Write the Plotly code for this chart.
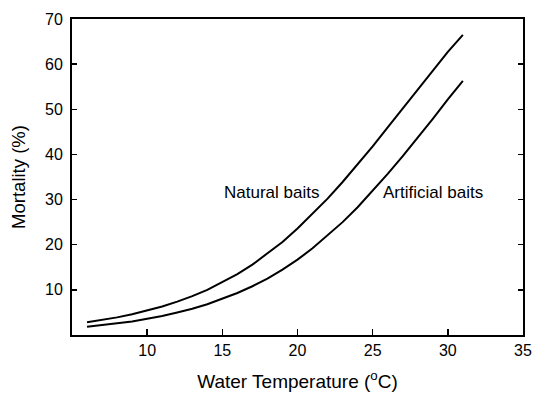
import plotly.graph_objects as go

temps = list(range(6, 32))
natural = [2.8, 3.3, 3.9, 4.6, 5.4, 6.3, 7.4, 8.6, 10.0, 11.7, 13.5, 15.6, 18.0, 20.6,
           23.6, 26.8, 30.2, 33.9, 37.8, 41.8, 46.0, 50.2, 54.5, 58.6, 62.7, 66.5]
artificial = [1.85, 2.2, 2.6, 3.0, 3.6, 4.2, 5.0, 5.8, 6.8, 8.0, 9.3, 10.8, 12.5, 14.5,
              16.7, 19.2, 22.0, 25.0, 28.3, 31.9, 35.7, 39.6, 43.7, 47.9, 52.2, 56.3]

x_ticks = [10, 15, 20, 25, 30, 35]
y_ticks = [10, 20, 30, 40, 50, 60, 70]

FONT = "Liberation Sans, Arial, sans-serif"

fig = go.Figure()
fig.add_trace(go.Scatter(x=temps, y=natural, mode="lines", line=dict(color="black", width=2),
                         name="Natural baits", showlegend=False, hoverinfo="skip"))
fig.add_trace(go.Scatter(x=temps, y=artificial, mode="lines", line=dict(color="black", width=2),
                         name="Artificial baits", showlegend=False, hoverinfo="skip"))

fig.add_annotation(x=18.25, y=31.5, text="Natural baits", showarrow=False,
                   font=dict(family=FONT, size=17, color="black"))
fig.add_annotation(x=29.03, y=31.5, text="Artificial baits", showarrow=False,
                   font=dict(family=FONT, size=17, color="black"))

fig.update_layout(
    width=533, height=393,
    margin=dict(l=72, r=10, t=19, b=58, autoexpand=False),
    paper_bgcolor="white", plot_bgcolor="white",
    font=dict(family=FONT, size=16, color="black"),
    showlegend=False,
)
fig.update_xaxes(
    range=[5, 35], tickvals=x_ticks, ticktext=[str(v) for v in x_ticks],
    showgrid=False, zeroline=False,
    showline=True, linecolor="black", linewidth=2, mirror=True,
    ticks="inside", ticklen=6, tickcolor="black", tickwidth=1.5,
    tickfont=dict(size=16), ticklabelstandoff=0,
    title=dict(text="Water Temperature (<sup>o</sup>C)", font=dict(size=19), standoff=16),
)
fig.update_yaxes(
    range=[0, 70], tickvals=y_ticks, ticktext=[str(v) for v in y_ticks],
    showgrid=False, zeroline=False,
    showline=True, linecolor="black", linewidth=2, mirror="ticks",
    ticks="inside", ticklen=5, tickcolor="black", tickwidth=1.5,
    tickfont=dict(size=16), ticklabelstandoff=4,
    title=dict(text="Mortality (%)", font=dict(size=18.5), standoff=15),
)

fig.write_html(
    "out.html",
    config={"displayModeBar": False, "staticPlot": True},
    post_script="document.body.style.margin='0';document.body.style.overflow='hidden';",
)
